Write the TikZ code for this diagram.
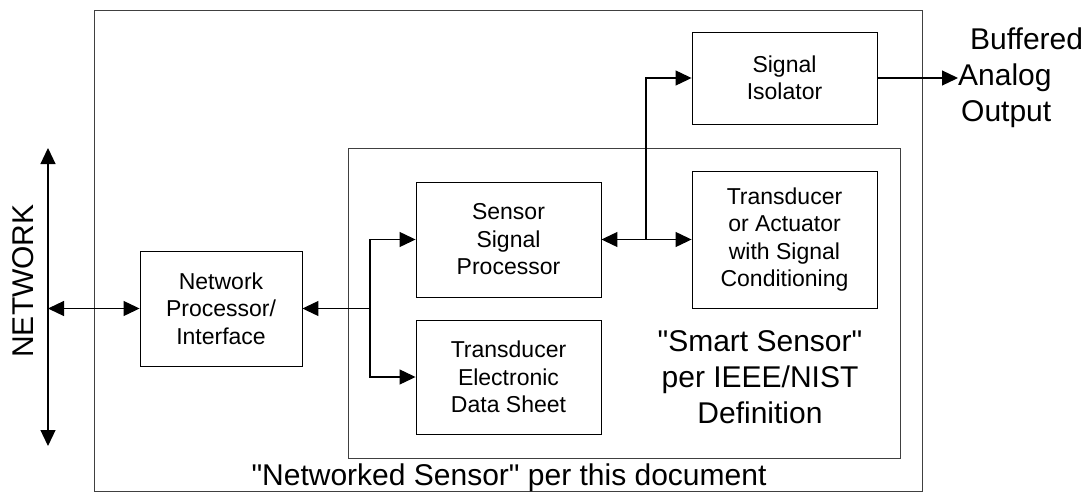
\documentclass[tikz,border=0pt]{standalone}
\usepackage{fontspec}
\setmainfont{Liberation Sans}
\usetikzlibrary{arrows.meta}

\begin{document}
\begin{tikzpicture}[x=1pt, y=-1pt,
  block/.style={draw, line width=0.9pt, align=center, inner sep=0pt, font=\fontsize{23}{27.5}\selectfont},
  frame/.style={draw=black!75, line width=1pt},
  big/.style={align=center, inner sep=0pt, font=\fontsize{30}{36}\selectfont},
  arr/.style={line width=1.2pt, -{Triangle[length=16pt, width=15pt]}},
  darr/.style={line width=1.2pt, {Triangle[length=16pt, width=15pt]}-{Triangle[length=16pt, width=15pt]}}]
  \useasboundingbox (0,0) rectangle (1088,493);
  % frames
  \draw[frame] (94,10) rectangle (922,491);
  \draw[frame] (348,148) rectangle (900,458);
  % blocks
  \node[block, minimum width=162pt, minimum height=115pt] (np) at (221,308.5) {Network\\Processor/\\Interface};
  \node[block, minimum width=185pt, minimum height=115pt] (ssp) at (508.5,239.5) {Sensor\\Signal\\Processor};
  \node[block, minimum width=185pt, minimum height=114pt] (teds) at (508.5,377) {Transducer\\Electronic\\Data Sheet};
  \node[block, minimum width=185pt, minimum height=137pt] (tac) at (784.5,239.5) {Transducer\\or Actuator\\with Signal\\Conditioning};
  \node[block, minimum width=185pt, minimum height=92pt] (iso) at (784.5,78) {Signal\\Isolator};
  % labels
  \node[big] (smart) at (760,377) {\textquotedbl Smart Sensor\textquotedbl\\per IEEE/NIST\\Definition};
  \node[big, anchor=base] (netsen) at (509,485) {\textquotedbl Networked Sensor\textquotedbl{} per this document};
  \node[big, rotate=90] (netlbl) at (23,281) {NETWORK};
  \node[big, anchor=west, align=left] (out) at (958,78) {\hspace{12pt}Buffered\\Analog\\\hspace{3pt}Output};
  % connectors
  \coordinate (nt) at (48,148);
  \coordinate (nb) at (48,446);
  \coordinate (nm) at (48,308.5);
  \coordinate (j1) at (370,308.5);
  \coordinate (j2) at (646,239.5);
  \draw[darr] (nt) -- (nb);
  \draw[darr] (nm) -- (np.west);
  \draw[arr] (j1) -- (np.east);
  \draw[arr] (j1) |- (ssp.west);
  \draw[arr] (j1) |- (teds.west);
  \draw[darr] (ssp.east) -- (tac.west);
  \draw[arr] (j2) |- (iso.west);
  \draw[arr] (iso.east) -- (out.west);
\end{tikzpicture}
\end{document}
